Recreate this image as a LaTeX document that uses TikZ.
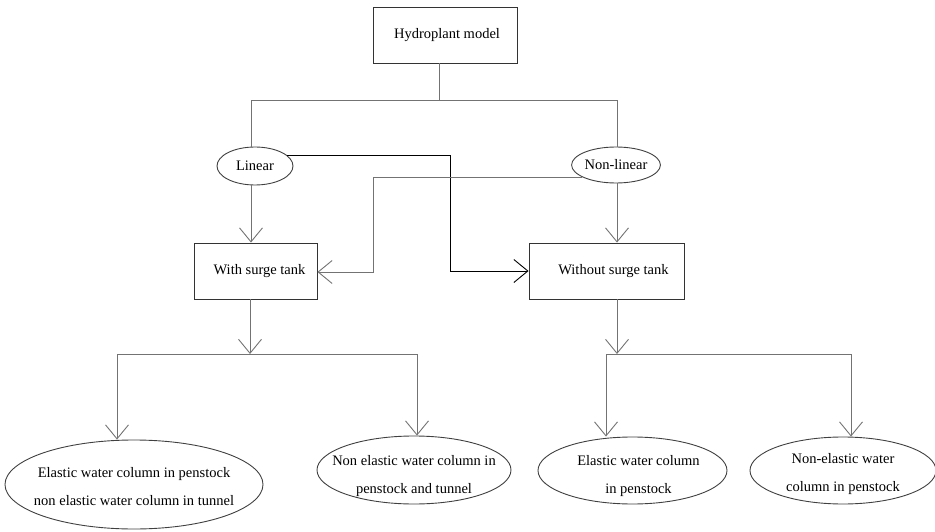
\documentclass[tikz,border=0pt]{standalone}
\usepackage{fontspec}
\setmainfont{Liberation Serif}
\usetikzlibrary{arrows.meta,shapes.geometric}
\begin{document}
\begin{tikzpicture}[x=1pt,y=-1pt,
  every node/.style={font=\fontsize{14.5}{28}\selectfont},
  boxnode/.style={draw=black!80, line width=0.9pt, rectangle, inner sep=0pt},
  ellnode/.style={draw=black!75, line width=0.9pt, ellipse, inner sep=0pt},
  conn/.style={draw=black!55, line width=0.9pt},
  arr/.style={conn, -{Straight Barb[length=14pt,width=23pt,line width=0.9pt]}},
  txt/.style={align=center, inner sep=0pt}
]
\useasboundingbox (0,0) rectangle (935,532);

% nodes
\node[boxnode, minimum width=144pt, minimum height=56pt] (top) at (445,35) {\hspace*{4pt}Hydroplant model};
\node[ellnode, minimum width=76pt, minimum height=38pt] (lin) at (255,166) {Linear};
\node[ellnode, minimum width=88pt, minimum height=36pt] (nonlin) at (616,165) {Non-linear};
\node[boxnode, minimum width=123pt, minimum height=56pt] (with) at (255.5,271) {\hspace*{8pt}With surge tank};
\node[boxnode, minimum width=155pt, minimum height=56pt] (without) at (606.5,271) {\hspace*{14pt}Without surge tank};

\node[ellnode, minimum width=258pt, minimum height=89pt,
  label={[txt, yshift=-2pt]center:Elastic water column in penstock\\non elastic water column in tunnel}] (e1) at (134,484.5) {};
\node[ellnode, minimum width=194pt, minimum height=68pt,
  label={[txt, yshift=-6pt]center:Non elastic water column in\\penstock and tunnel}] (e2) at (414,470) {};
\node[ellnode, minimum width=189pt, minimum height=67pt,
  label={[txt, xshift=6pt, yshift=-6pt]center:Elastic water column\\in penstock}] (e3) at (632.5,470.5) {};
\node[ellnode, minimum width=186pt, minimum height=67pt,
  label={[txt, yshift=-4pt]center:Non-elastic water\\column in penstock}] (e4) at (843,470.5) {};

% coordinates
\coordinate (tc) at (439,100);
\coordinate (bl) at (251,100);
\coordinate (br) at (617,100);
\coordinate (k1) at (450,271);
\coordinate (k2) at (373,272);
\coordinate (j1) at (250,354);
\coordinate (c1) at (117,354);
\coordinate (c2) at (417,354);
\coordinate (j2) at (617,354);
\coordinate (c3) at (606,354);
\coordinate (c4) at (851,354);

% connectors
\draw[conn] (tc |- top.south) -- (tc);
\draw[conn] (bl |- lin.north) -- (bl) -- (br) -- (br |- nonlin.north);
\draw[arr] (bl |- lin.south) -- (bl |- with.north);
\draw[arr] (br |- nonlin.south) -- (br |- without.north);
\draw[arr, draw=black] (lin.18) -| (k1) -- (without.west);
\draw[arr] (nonlin.200) -| (k2) -- (with.east |- k2);

\draw[arr] (j1 |- with.south) -- (j1);
\draw[conn] (c1) -- (c2);
\draw[arr] (c1) -- (c1 |- e1.north);
\draw[arr] (c2) -- (c2 |- e2.north);

\draw[arr] (j2 |- without.south) -- (j2);
\draw[conn] (c3) -- (c4);
\draw[arr] (c3) -- (c3 |- e3.north);
\draw[arr] (c4) -- (c4 |- e4.north);
\end{tikzpicture}
\end{document}
